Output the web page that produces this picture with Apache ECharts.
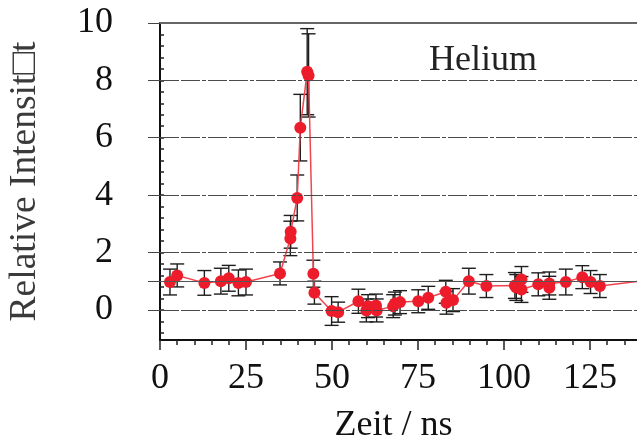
<!DOCTYPE html>
<html>
<head>
<meta charset="utf-8">
<script src="https://cdn.jsdelivr.net/npm/echarts@6/dist/echarts.min.js"></script>
<style>
  html, body { margin: 0; padding: 0; background: #ffffff; }
  #chart { width: 637px; height: 442px; }
</style>
</head>
<body>
<div id="chart"></div>
<script>
// Zeit in ns, relative Intensität und Fehler
const zeit = [
  2.9, 5.0, 12.9, 17.7, 20.0, 22.8, 25.0, 34.9, 37.9, 38.0,
  39.9, 40.8, 42.8, 43.2, 44.6, 44.9, 49.9, 51.8, 57.7, 60.0,
  60.5, 62.8, 63.0, 67.8, 68.3, 69.8, 75.1, 78.0, 83.1, 83.3,
  85.2, 89.8, 94.9, 103.2, 103.6, 105.1, 105.1, 110.0, 113.2, 113.2,
  118.0, 122.8, 125.2, 127.9, 141.0
]
const intensitaet = [
  0.97, 1.2, 0.94, 1.0, 1.1, 0.94, 0.97, 1.27, 2.49, 2.72,
  3.9, 6.35, 8.3, 8.17, 1.26, 0.6, -0.04, -0.08, 0.3, -0.02,
  0.13, 0.15, -0.02, 0.13, 0.22, 0.27, 0.3, 0.42, 0.63, 0.25,
  0.34, 1.0, 0.83, 0.85, 0.78, 1.06, 0.71, 0.89, 0.77, 0.92,
  0.97, 1.14, 0.97, 0.83, 1.02
]
const fehler = [
  0.45, 0.4, 0.43, 0.45, 0.45, 0.45, 0.45, 0.4, 0.6, 0.57,
  0.8, 1.16, 1.5, 1.45, 0.47, 0.4, 0.5, 0.35, 0.42, 0.4,
  0.4, 0.4, 0.4, 0.4, 0.4, 0.4, 0.4, 0.4, 0.4, 0.4,
  0.4, 0.45, 0.4, 0.45, 0.45, 0.45, 0.45, 0.4, 0.4, 0.4,
  0.45, 0.4, 0.4, 0.4, 0.4
]

const xLabelValues = [0, 25, 50, 75, 100, 125]
const xMinorTicks = [5, 10, 15, 20, 30, 35, 40, 45, 55, 60, 65, 70, 80, 85, 90, 95, 105, 110, 115, 120, 130, 135]
const yLabelValues = [0, 2, 4, 6, 8, 10]
const yOuterTicks = [0, 1, 2, 4, 6, 8, 10]
const yInnerTicks = [
  -0.8, -0.4, 0, 0.4, 0.8, 1.2, 1.6, 2, 2.4, 2.8, 3.2, 3.6, 4, 4.4,
  4.8, 5.2, 5.6, 6, 6.4, 6.8, 7.2, 7.6, 8, 8.4, 8.8, 9.2, 9.6
]
const gridValues = [0, 2, 4, 6, 8]

const FONT = '"Liberation Serif", "Times New Roman", serif'
const punkte = zeit.map((t, i) => [t, intensitaet[i]])
const balken = zeit.map((t, i) => [t, intensitaet[i] - fehler[i], intensitaet[i] + fehler[i]])

const chart = echarts.init(document.getElementById('chart'))

const baseX = {
  type: 'value',
  min: 0,
  max: 138.7,
  position: 'bottom',
  splitLine: { show: false }
}
const baseY = {
  type: 'value',
  min: -1.05,
  max: 10,
  position: 'left',
  splitLine: { show: false }
}

chart.setOption({
  animation: false,
  grid: { left: 160, top: 22.9, right: 0, bottom: 102, containLabel: false, outerBoundsMode: 'none' },
  xAxis: [
    {
      ...baseX,
      name: 'Zeit / ns',
      nameLocation: 'middle',
      nameGap: 68,
      nameTextStyle: { fontFamily: FONT, fontSize: 36, color: '#111', padding: [0, 10, 0, 0] },
      axisLine: { onZero: false, lineStyle: { color: '#111', width: 2 } },
      axisTick: { customValues: xLabelValues, length: 10, lineStyle: { color: '#222', width: 1.5 } },
      axisLabel: { customValues: xLabelValues, margin: 21, fontFamily: FONT, fontSize: 36, color: '#111' }
    },
    {
      ...baseX,
      axisLine: { show: false, onZero: false },
      axisTick: { customValues: xMinorTicks, length: 5, lineStyle: { color: '#222', width: 1.5 } },
      axisLabel: { show: false }
    }
  ],
  yAxis: [
    {
      ...baseY,
      name: 'Relative Intensit\u25A1t',
      nameLocation: 'middle',
      nameGap: 116,
      nameTextStyle: { fontFamily: FONT, fontSize: 37.5, color: '#3a3a3a' },
      axisLine: { onZero: false, lineStyle: { color: '#111', width: 2 } },
      axisTick: { customValues: yOuterTicks, length: 12, lineStyle: { color: '#444', width: 1 } },
      axisLabel: { customValues: yLabelValues, margin: 47, fontFamily: FONT, fontSize: 36, color: '#111' }
    },
    {
      ...baseY,
      axisLine: { show: false, onZero: false },
      axisTick: { customValues: yInnerTicks, inside: true, length: 4, lineStyle: { color: '#222', width: 1.5 } },
      axisLabel: { show: false }
    }
  ],
  graphic: [
    {
      type: 'text',
      left: 429,
      top: 43,
      style: { text: 'Helium', font: '36px ' + FONT, fill: '#222' }
    }
  ],
  series: [
    {
      type: 'custom',
      xAxisIndex: 0,
      yAxisIndex: 0,
      clip: true,
      z: 2,
      encode: { x: 0, y: [1, 2] },
      data: balken,
      renderItem(params, api) {
        const x = api.value(0)
        const lo = api.coord([x, api.value(1)])
        const hi = api.coord([x, api.value(2)])
        const hw = 7
        const style = { stroke: '#1e1e1e', lineWidth: 1.4 }
        return {
          type: 'group',
          children: [
            { type: 'line', shape: { x1: lo[0], y1: lo[1], x2: hi[0], y2: hi[1] }, style },
            { type: 'line', shape: { x1: hi[0] - hw, y1: hi[1], x2: hi[0] + hw, y2: hi[1] }, style },
            { type: 'line', shape: { x1: lo[0] - hw, y1: lo[1], x2: lo[0] + hw, y2: lo[1] }, style }
          ]
        }
      },
      markLine: {
        silent: true,
        symbol: ['none', 'none'],
        label: { show: false },
        lineStyle: { color: '#4a4a4a', width: 1.2, type: [19, 2, 19, 2, 4, 2] },
        data: [
          ...gridValues.map((v) => ({ yAxis: v })),
          { yAxis: 1, lineStyle: { type: 'solid', color: '#555', width: 1.2 } },
          { yAxis: 10, lineStyle: { type: 'solid', color: '#666', width: 2 } }
        ]
      }
    },
    {
      type: 'line',
      xAxisIndex: 0,
      yAxisIndex: 0,
      z: 3,
      data: punkte,
      symbol: 'circle',
      symbolSize: 12,
      itemStyle: { color: '#ec1c2b' },
      lineStyle: { color: '#f0454f', width: 1.5 },
      emphasis: { disabled: true }
    }
  ]
})
</script>
</body>
</html>
